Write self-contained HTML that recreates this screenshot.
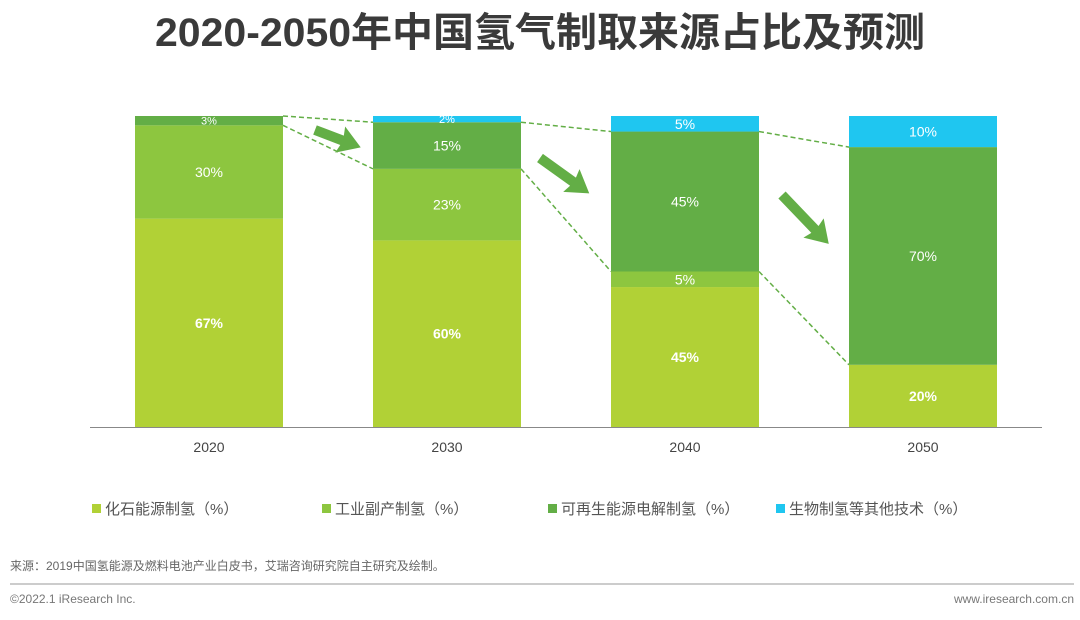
<!DOCTYPE html>
<html><head><meta charset="utf-8">
<style>
body{margin:0;background:#fff;font-family:"Liberation Sans","Noto Sans CJK SC",sans-serif;}
#wrap{position:relative;width:1080px;height:620px;overflow:hidden;}
</style></head>
<body>
<div id="wrap">
<svg id="chart" width="1080" height="620">
<text x="540" y="46" text-anchor="middle" font-size="40" font-weight="bold" fill="#3a3a3a" font-family="Liberation Sans, Noto Sans CJK SC, sans-serif" textLength="770" lengthAdjust="spacingAndGlyphs">2020-2050年中国氢气制取来源占比及预测</text>
<g id="links"></g>
<g id="bars"></g>
<line x1="90" y1="427.5" x2="1042" y2="427.5" stroke="#888" stroke-width="1"/>
<g id="xlabels"></g>
<g id="arrows"></g>
<g id="legend"></g>
<text x="10" y="570" font-size="12" fill="#666">来源：2019中国氢能源及燃料电池产业白皮书，艾瑞咨询研究院自主研究及绘制。</text>
<line x1="10" y1="584" x2="1074" y2="584" stroke="#999" stroke-width="1"/>
<text x="10" y="603" font-size="12" fill="#777">©2022.1 iResearch Inc.</text>
<text x="1074" y="603" font-size="12" fill="#777" text-anchor="end">www.iresearch.com.cn</text>
</svg>
</div>
<script>
const years=["2020","2030","2040","2050"];
const fossil=[67,60,45,20];
const industrial=[30,23,5,0];
const renewable=[3,15,45,70];
const bio=[0,2,5,10];
const seriesNames=["化石能源制氢（%）","工业副产制氢（%）","可再生能源电解制氢（%）","生物制氢等其他技术（%）"];
const colors=["#b1d136","#8dc63f","#63ae46","#1fc6f0"];
const NS="http://www.w3.org/2000/svg";
const baseY=427,plotH=311,barW=148,x0=135,step=238;
function yS(v){return baseY-v*plotH/100;}
function xS(i){return x0+i*step;}
function mk(tag,attrs,parent){const e=document.createElementNS(NS,tag);for(const k in attrs)e.setAttribute(k,attrs[k]);parent.appendChild(e);return e;}
const bars=document.getElementById('bars');
const series=[fossil,industrial,renewable,bio];
const segNames=["fossil","industrial","renewable","bio"];
const rBot=[],rTop=[];
years.forEach((yr,i)=>{
  let cum=0;
  series.forEach((s,k)=>{
    const v=s[i];
    const y1=yS(cum),y2=yS(cum+v);
    if(k===2){rBot[i]=y1;rTop[i]=y2;}
    cum+=v;
    if(v<=0)return;
    const r=mk('rect',{x:xS(i),y:y2,width:barW,height:y1-y2,fill:colors[k]},bars);
    
    
    const fs=v<=3?11:14;
    const t=mk('text',{x:xS(i)+barW/2,y:(y1+y2)/2+fs*0.36,'text-anchor':'middle','font-size':fs,fill:'#fff','font-weight':k===0?'bold':'normal'},bars);
    t.textContent=v+'%';
    
    
  });
  const xl=mk('text',{x:xS(i)+barW/2,y:452,'text-anchor':'middle','font-size':14,fill:'#444'},document.getElementById('xlabels'));
  xl.textContent=yr;
  
  
});
const links=document.getElementById('links');
for(let i=0;i<years.length-1;i++){
  [[rTop[i],rTop[i+1]],[rBot[i],rBot[i+1]]].forEach(p=>{
    const l=mk('line',{x1:xS(i)+barW,y1:p[0],x2:xS(i+1),y2:p[1],stroke:'#63ae46','stroke-width':1.5,'stroke-dasharray':'5,3'},links);
    
    
  });
}
const arrows=document.getElementById('arrows');
[[315,130,42,16],[540,158,46,33],[782,195,44,46]].forEach(a=>{
  const [ax,ay,dx,dy]=a;
  const ang=Math.atan2(dy,dx)*180/Math.PI, len=Math.hypot(dx,dy);
  const g=mk('g',{transform:`translate(${ax},${ay}) rotate(${ang})`},arrows);
  
  
  const L=len+4;
  mk('path',{d:`M0,-5 L${L-20},-5 L${L-22},-14 L${L},0 L${L-22},14 L${L-20},5 L0,5 Z`,fill:'#63ae46'},g);
});
const legend=document.getElementById('legend');
const lx=[92,322,548,776];
seriesNames.forEach((n,k)=>{
  const g=mk('g',{},legend);
  
  
  mk('rect',{x:lx[k],y:504,width:9,height:9,fill:colors[k]},g);
  const t=mk('text',{x:lx[k]+13,y:514,'font-size':15,fill:'#555'},g);
  t.textContent=n;
});
</script>
</body></html>
